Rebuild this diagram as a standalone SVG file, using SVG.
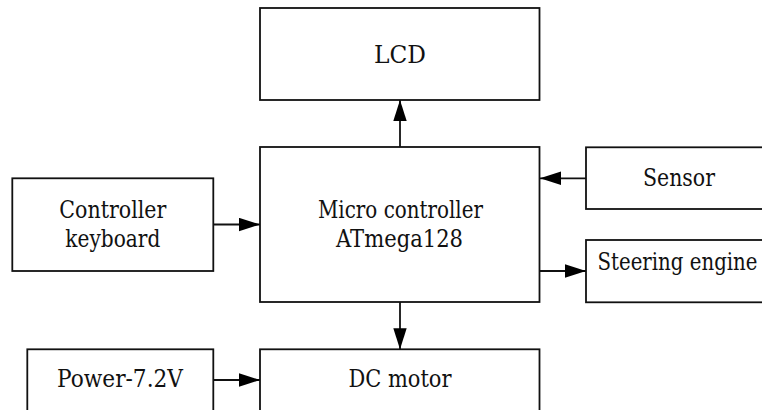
<svg xmlns="http://www.w3.org/2000/svg" width="762" height="410" viewBox="0 0 762 410">
<style>
.box{fill:#fff;stroke:#111;stroke-width:1.8}
.lbl{font-family:'DejaVu Serif','Liberation Serif',serif;font-size:23.5px;fill:#111;text-anchor:middle}
.wire{fill:none;stroke:#111;stroke-width:1.8}
</style>
<defs>
<marker id="ah" markerUnits="userSpaceOnUse" markerWidth="22" markerHeight="14" refX="21" refY="7" orient="auto">
<path d="M0,0.3 L21,7 L0,13.7 Z" fill="#000"/>
</marker>
</defs>
<rect width="762" height="410" fill="#fff"/>
<g id="lcd"><rect class="box" x="260" y="8" width="279.5" height="92"/><text class="lbl" x="400" y="62.5" textLength="52" lengthAdjust="spacingAndGlyphs">LCD</text></g>
<g id="mcu"><rect class="box" x="260" y="147" width="279.5" height="155"/><text class="lbl" x="400.5" y="217.5" textLength="165" lengthAdjust="spacingAndGlyphs">Micro controller</text><text class="lbl" x="399.5" y="247" textLength="127" lengthAdjust="spacingAndGlyphs">ATmega128</text></g>
<g id="keyboard"><rect class="box" x="12.3" y="178.3" width="201" height="92.7"/><text class="lbl" x="112.8" y="217.7" textLength="107" lengthAdjust="spacingAndGlyphs">Controller</text><text class="lbl" x="112.8" y="247.3" textLength="95" lengthAdjust="spacingAndGlyphs">keyboard</text></g>
<g id="sensor"><rect class="box" x="586" y="147.3" width="200" height="61.7"/><text class="lbl" x="679" y="185.7" textLength="72" lengthAdjust="spacingAndGlyphs">Sensor</text></g>
<g id="steering"><rect class="box" x="586" y="240" width="200" height="62.3"/><text class="lbl" x="677.5" y="269.5" textLength="160" lengthAdjust="spacingAndGlyphs">Steering engine</text></g>
<g id="power"><rect class="box" x="27.3" y="349.3" width="186" height="80"/><text class="lbl" x="120" y="386.7" textLength="126" lengthAdjust="spacingAndGlyphs">Power-7.2V</text></g>
<g id="dcmotor"><rect class="box" x="260" y="349.3" width="279.5" height="80"/><text class="lbl" x="400" y="386.7" textLength="103" lengthAdjust="spacingAndGlyphs">DC motor</text></g>
<g id="connectors">
<line class="wire" x1="400" y1="147" x2="400" y2="100" marker-end="url(#ah)"/>
<line class="wire" x1="586" y1="178.3" x2="540" y2="178.3" marker-end="url(#ah)"/>
<line class="wire" x1="213.3" y1="224.5" x2="260" y2="224.5" marker-end="url(#ah)"/>
<line class="wire" x1="539.5" y1="271" x2="586" y2="271" marker-end="url(#ah)"/>
<line class="wire" x1="400" y1="302" x2="400" y2="349.3" marker-end="url(#ah)"/>
<line class="wire" x1="213.3" y1="380" x2="260" y2="380" marker-end="url(#ah)"/>
</g>
</svg>
